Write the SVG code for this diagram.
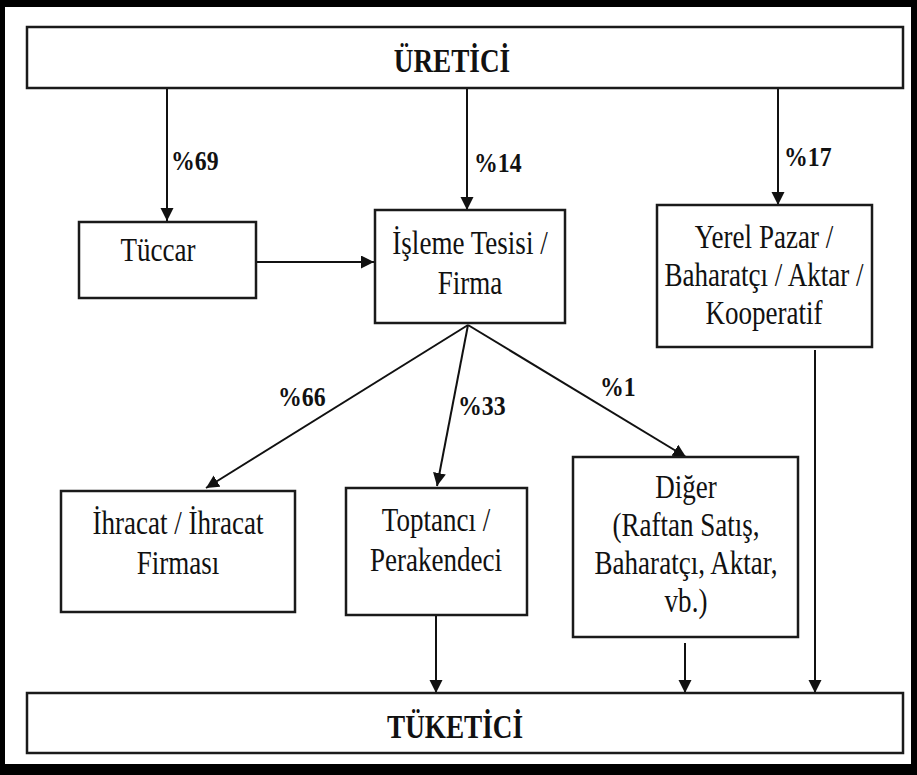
<svg xmlns="http://www.w3.org/2000/svg" width="917" height="775" viewBox="0 0 917 775">
  <style>
    .box { fill: #ffffff; stroke: #1a1a1a; stroke-width: 2.5; }
    .frame { fill: #000000; }
    .edge { stroke: #111111; stroke-width: 2; fill: none; marker-end: url(#arrow); }
    text { font-family: 'Liberation Serif', 'DejaVu Serif', serif; fill: #111111; }
    .t { font-size: 33px; text-anchor: middle; }
    .title { font-size: 34px; font-weight: bold; text-anchor: middle; }
    .pct { font-size: 28px; font-weight: bold; }
  </style>
  <defs>
    <marker id="arrow" markerUnits="userSpaceOnUse" markerWidth="14" markerHeight="14" refX="13" refY="6.5" orient="auto">
      <path d="M0,0 L13,6.5 L0,13 z" fill="#111111"/>
    </marker>
  </defs>

  <rect width="917" height="775" fill="#ffffff"/>

  <!-- outer frame -->
  <rect class="frame" x="0" y="0" width="917" height="7"/>
  <rect class="frame" x="0" y="0" width="5" height="775"/>
  <rect class="frame" x="911" y="0" width="6" height="775"/>
  <rect class="frame" x="0" y="764" width="917" height="11"/>

  <!-- connectors -->
  <g id="connectors">
    <line class="edge" x1="167" y1="88" x2="167" y2="221"/>
    <line class="edge" x1="467" y1="88" x2="467" y2="210"/>
    <line class="edge" x1="778" y1="88" x2="778" y2="205"/>
    <line class="edge" x1="257" y1="262" x2="374" y2="262"/>
    <line class="edge" x1="468" y1="325" x2="206" y2="488"/>
    <line class="edge" x1="468" y1="325" x2="437" y2="486"/>
    <line class="edge" x1="468" y1="325" x2="686" y2="457"/>
    <line class="edge" x1="436" y1="615" x2="436" y2="693"/>
    <line class="edge" x1="685" y1="643" x2="685" y2="693"/>
    <line class="edge" x1="815" y1="350" x2="815" y2="693"/>
  </g>

  <!-- connector labels -->
  <g id="labels">
    <text class="pct" transform="translate(171,170) scale(0.85,1)" font-family="Liberation Serif, serif">%69</text>
    <text class="pct" transform="translate(474,172) scale(0.85,1)" font-family="Liberation Serif, serif">%14</text>
    <text class="pct" transform="translate(784,166) scale(0.85,1)" font-family="Liberation Serif, serif">%17</text>
    <text class="pct" transform="translate(278,406) scale(0.85,1)" font-family="Liberation Serif, serif">%66</text>
    <text class="pct" transform="translate(458,415) scale(0.85,1)" font-family="Liberation Serif, serif">%33</text>
    <text class="pct" transform="translate(600,396) scale(0.85,1)" font-family="Liberation Serif, serif">%1</text>
  </g>

  <g id="uretici">
    <rect class="box" x="27" y="27" width="876" height="61"/>
    <text class="title" transform="translate(452,72) scale(0.8,1)">ÜRETİCİ</text>
  </g>

  <g id="tuccar">
    <rect class="box" x="79" y="222" width="177" height="76"/>
    <text class="t" transform="translate(158,261) scale(0.82,1)">Tüccar</text>
  </g>

  <g id="isleme">
    <rect class="box" x="375" y="210" width="190" height="113"/>
    <text class="t" transform="translate(470,254) scale(0.82,1)">İşleme Tesisi /</text>
    <text class="t" transform="translate(470,294) scale(0.82,1)">Firma</text>
  </g>

  <g id="yerel">
    <rect class="box" x="657" y="205" width="215" height="142"/>
    <text class="t" transform="translate(764,248) scale(0.82,1)">Yerel Pazar /</text>
    <text class="t" transform="translate(764,286) scale(0.82,1)">Baharatçı / Aktar /</text>
    <text class="t" transform="translate(764,324) scale(0.82,1)">Kooperatif</text>
  </g>

  <g id="ihracat">
    <rect class="box" x="61" y="491" width="234" height="121"/>
    <text class="t" transform="translate(178,534) scale(0.82,1)">İhracat / İhracat</text>
    <text class="t" transform="translate(178,574) scale(0.82,1)">Firması</text>
  </g>

  <g id="toptanci">
    <rect class="box" x="346" y="488" width="181" height="127"/>
    <text class="t" transform="translate(436,531) scale(0.82,1)">Toptancı /</text>
    <text class="t" transform="translate(436,571) scale(0.82,1)">Perakendeci</text>
  </g>

  <g id="diger">
    <rect class="box" x="573" y="457" width="225" height="180"/>
    <text class="t" transform="translate(686,498) scale(0.82,1)">Diğer</text>
    <text class="t" transform="translate(686,536) scale(0.82,1)">(Raftan Satış,</text>
    <text class="t" transform="translate(686,574) scale(0.82,1)">Baharatçı, Aktar,</text>
    <text class="t" transform="translate(686,612) scale(0.82,1)">vb.)</text>
  </g>

  <g id="tuketici">
    <rect class="box" x="27" y="693" width="876" height="60"/>
    <text class="title" transform="translate(455,738) scale(0.8,1)">TÜKETİCİ</text>
  </g>
</svg>
